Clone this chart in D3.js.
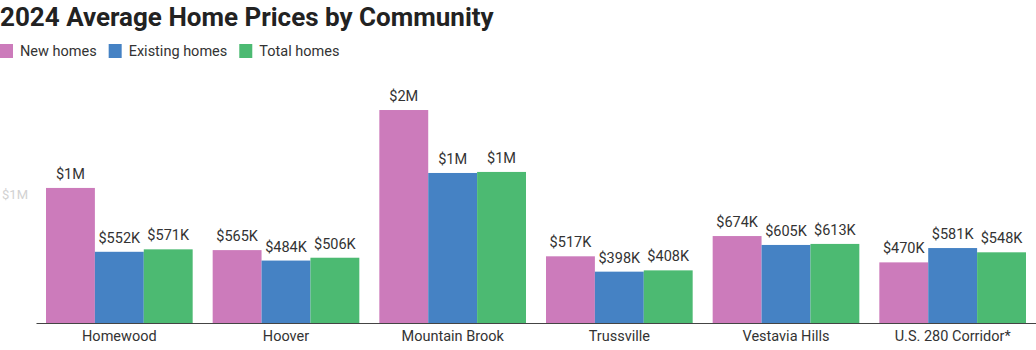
<!DOCTYPE html>
<html>
<head>
<meta charset="utf-8">
<script src="https://cdn.jsdelivr.net/npm/d3@7"></script>
<style>
  html, body { margin: 0; padding: 0; background: #fff; }
  svg { display: block; font-family: Roboto, "Noto Sans", sans-serif; }
</style>
</head>
<body>
<svg id="chart" width="1036" height="350"></svg>
<script>
// Average home prices (USD) by community, 2024
const communities = ["Homewood", "Hoover", "Mountain Brook", "Trussville", "Vestavia Hills", "U.S. 280 Corridor*"];
const seriesNames = ["New homes", "Existing homes", "Total homes"];
const newHomes      = [1047000, 565000, 1651000, 517000, 674000, 470000];
const existingHomes = [552000, 484000, 1163000, 398000, 605000, 581000];
const totalHomes    = [571000, 506000, 1171000, 408000, 613000, 548000];
const seriesColors  = ["#cc7bbb", "#4582c4", "#4cba72"];
const yTicks = [1000000];
const yTickLabels = ["$1M"];

const seriesValues = [newHomes, existingHomes, totalHomes];
const rows = communities.map((c, i) => ({
  community: c,
  values: seriesNames.map((s, j) => ({ series: s, value: seriesValues[j][i] }))
}));

const svg = d3.select("#chart");
const baseY = 323;
const fs = 14.5;

const x0 = d3.scaleBand().domain(communities).range([36, 1036])
  .paddingInner(0.12).paddingOuter(0.06);
const x1 = d3.scaleBand().domain(seriesNames).range([0, x0.bandwidth()]).padding(0);
const y = d3.scaleLinear().domain([0, 1000000]).range([baseY, 194]);
const color = d3.scaleOrdinal().domain(seriesNames).range(seriesColors);

const fmt = v => v >= 1e6 ? "$" + Math.round(v / 1e6) + "M" : "$" + Math.round(v / 1e3) + "K";

// Title
svg.append("text")
  .attr("x", 0).attr("y", 26)
  .attr("font-size", 26).attr("font-weight", 700)
  .attr("fill", "#222")
  .text("2024 Average Home Prices by Community");

// Legend
const legend = svg.append("g").attr("font-size", fs).attr("fill", "#333");
let lx = 0;
seriesNames.forEach(name => {
  const g = legend.append("g").attr("transform", `translate(${lx},0)`);
  g.append("rect").attr("x", 0).attr("y", 44).attr("width", 13).attr("height", 14)
    .attr("fill", color(name));
  const t = g.append("text").attr("x", 20).attr("y", 56).attr("fill", "#333").text(name);
  lx += 20 + t.node().getComputedTextLength() + 12;
});

// Y axis tick label (faint)
const yAxis = svg.append("g").attr("transform", "translate(28,0)")
  .call(d3.axisLeft(y).tickValues(yTicks).tickFormat((d, i) => yTickLabels[i]).tickSize(0).tickPadding(0));
yAxis.select(".domain").remove();
yAxis.selectAll("text").attr("fill", "#d2d2d2").attr("font-size", 13).attr("font-family", "Roboto, sans-serif");

// Bars
const groups = svg.append("g").selectAll("g").data(rows).join("g")
  .attr("transform", d => `translate(${x0(d.community)},0)`);

groups.selectAll("rect").data(d => d.values).join("rect")
  .attr("x", d => x1(d.series))
  .attr("y", d => y(d.value))
  .attr("width", x1.bandwidth())
  .attr("height", d => baseY - y(d.value))
  .attr("fill", d => color(d.series));

// Value labels
groups.selectAll("text.val").data(d => d.values).join("text")
  .attr("class", "val")
  .attr("x", d => x1(d.series) + x1.bandwidth() / 2)
  .attr("y", d => y(d.value) - 9)
  .attr("text-anchor", "middle")
  .attr("font-size", fs)
  .attr("fill", "#333")
  .text(d => fmt(d.value));

// X axis
const xAxis = svg.append("g").attr("transform", `translate(0,${baseY})`)
  .call(d3.axisBottom(x0).tickSize(0).tickPadding(8));
xAxis.select(".domain").attr("stroke", "#444").attr("stroke-width", 1.2);
xAxis.selectAll("text").attr("fill", "#333").attr("font-size", fs).attr("font-family", "Roboto, sans-serif");
</script>
</body>
</html>
